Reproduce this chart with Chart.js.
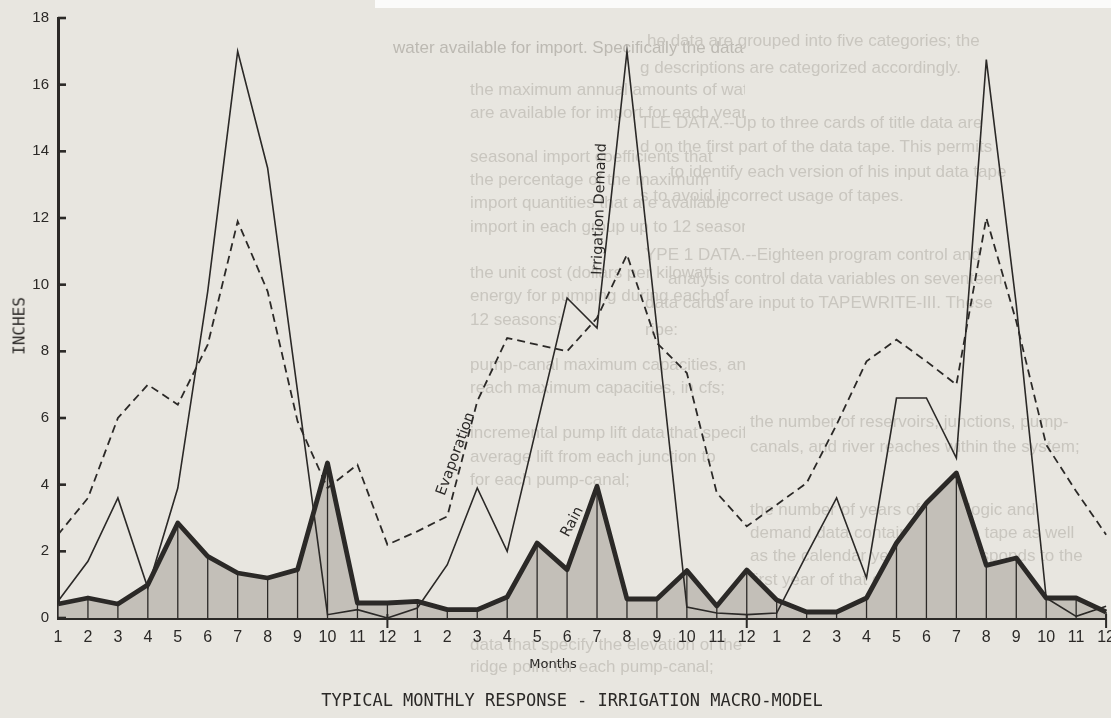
<!DOCTYPE html>
<html>
<head>
<meta charset="utf-8">
<title>Typical Monthly Response - Irrigation Macro-Model</title>
<script src="https://cdn.jsdelivr.net/npm/chart.js@4.4.1/dist/chart.umd.min.js"></script>
<style>
  html, body { margin: 0; padding: 0; overflow: hidden; background: #e8e6e0; }
  body { width: 1111px; height: 718px; position: relative; }
  #topEdge { position: absolute; left: 375px; top: 0; width: 736px; height: 8px; background: #fbfbfa; }
  #wrap { position: absolute; left: 0; top: 0; width: 1125px; height: 718px; }
  .ghost { position: absolute; font-family: 'Liberation Sans', Arial, sans-serif; font-size: 17px;
           color: #c9c6bf; white-space: nowrap; line-height: 20px; filter: blur(0.5px); }
  .clipL { position: absolute; left: 0; top: 0; width: 745px; height: 718px; overflow: hidden; }
  .clipR { position: absolute; left: 640px; top: 0; width: 471px; height: 718px; overflow: hidden; }
  #yTitle { position: absolute; left: 19px; top: 326px; transform: translate(-50%, -50%) rotate(-90deg);
            font-family: 'DejaVu Sans Mono', monospace; font-size: 16px; color: #2b2927; white-space: nowrap; }
  #xTitle { position: absolute; left: 553px; top: 663px; transform: translate(-50%, -50%);
            font-family: 'DejaVu Sans', sans-serif; font-size: 13px; color: #2b2927; white-space: nowrap; }
  #mainTitle { position: absolute; left: 572px; top: 700px; transform: translate(-50%, -50%);
               font-family: 'DejaVu Sans Mono', monospace; font-size: 17px; color: #2b2927; white-space: nowrap; }
</style>
</head>
<body>
<div id="topEdge"></div>

<!-- faint print showing through the page -->
<div class="clipL">
  <div class="ghost" style="left:393px;top:38px;color:#bcb9b2">water available for import. Specifically the data</div>
  <div class="ghost" style="left:470px;top:80px">the maximum annual amounts of water that</div>
  <div class="ghost" style="left:470px;top:103px">are available for import for each year;</div>
  <div class="ghost" style="left:470px;top:147px">seasonal import coefficients that</div>
  <div class="ghost" style="left:470px;top:170px">the percentage of the maximum</div>
  <div class="ghost" style="left:470px;top:193px">import quantities that are available</div>
  <div class="ghost" style="left:470px;top:217px">import in each group up to 12 seasons;</div>
  <div class="ghost" style="left:470px;top:263px">the unit cost (dollars per kilowatt</div>
  <div class="ghost" style="left:470px;top:286px">energy for pumping during each of</div>
  <div class="ghost" style="left:470px;top:310px">12 seasons;</div>
  <div class="ghost" style="left:470px;top:355px">pump-canal maximum capacities, and</div>
  <div class="ghost" style="left:470px;top:378px">reach maximum capacities, in cfs;</div>
  <div class="ghost" style="left:470px;top:423px">incremental pump lift data that specify</div>
  <div class="ghost" style="left:470px;top:447px">average lift from each junction to</div>
  <div class="ghost" style="left:470px;top:470px">for each pump-canal;</div>
  <div class="ghost" style="left:470px;top:635px">data that specify the elevation of the</div>
  <div class="ghost" style="left:470px;top:657px">ridge point for each pump-canal;</div>
</div>
<div class="clipR">
  <div class="ghost" style="left:7px;top:31px">he data are grouped into five categories; the</div>
  <div class="ghost" style="left:0px;top:58px">g descriptions are categorized accordingly.</div>
  <div class="ghost" style="left:0px;top:113px">TLE DATA.--Up to three cards of title data are</div>
  <div class="ghost" style="left:0px;top:137px">d on the first part of the data tape. This permits</div>
  <div class="ghost" style="left:30px;top:162px">to identify each version of his input data tape</div>
  <div class="ghost" style="left:0px;top:186px">s to avoid incorrect usage of tapes.</div>
  <div class="ghost" style="left:5px;top:245px">YPE 1 DATA.--Eighteen program control and</div>
  <div class="ghost" style="left:28px;top:269px">analysis control data variables on seventeen</div>
  <div class="ghost" style="left:5px;top:293px">data cards are input to TAPEWRITE-III. These</div>
  <div class="ghost" style="left:5px;top:320px">ribe:</div>
  <div class="ghost" style="left:110px;top:412px">the number of reservoirs, junctions, pump-</div>
  <div class="ghost" style="left:110px;top:437px">canals, and river reaches within the system;</div>
  <div class="ghost" style="left:110px;top:500px">the number of years of hydrologic and</div>
  <div class="ghost" style="left:110px;top:523px">demand data contained on the tape as well</div>
  <div class="ghost" style="left:110px;top:546px">as the calendar year that corresponds to the</div>
  <div class="ghost" style="left:110px;top:570px">first year of that data;</div>
</div>

<div id="wrap"><canvas id="chart"></canvas></div>
<div id="yTitle">INCHES</div>
<div id="xTitle">Months</div>
<div id="mainTitle">TYPICAL MONTHLY RESPONSE - IRRIGATION MACRO-MODEL</div>

<script>
// Month tick labels, repeated for each simulated year
const monthTicks = ['1', '2', '3', '4', '5', '6', '7', '8', '9', '10', '11', '12'];
const yearCount = 3;

// Monthly depths in inches, three consecutive years
const irrigationDemand = [
  0.5, 1.7, 3.6, 0.9, 3.9, 9.8, 17.0, 13.5, 6.8, 0.1, 0.25, 0.0,
  0.3, 1.6, 3.9, 2.0, 5.8, 9.6, 8.7, 17.0, 8.7, 0.33, 0.15, 0.1,
  0.15, 1.9, 3.6, 1.2, 6.6, 6.6, 4.8, 16.75, 9.4, 0.6, 0.05, 0.35
];
const evaporation = [
  2.5, 3.6, 6.0, 7.0, 6.4, 8.2, 11.9, 9.8, 5.9, 3.9, 4.6, 2.2,
  2.6, 3.05, 6.5, 8.4, 8.2, 8.0, 9.0, 10.9, 8.25, 7.35, 3.75, 2.75,
  3.4, 4.05, 5.8, 7.7, 8.35, 7.7, 7.0, 12.0, 8.9, 5.2, 3.8, 2.5
];
const rain = [
  0.42, 0.6, 0.42, 1.0, 2.85, 1.85, 1.35, 1.2, 1.45, 4.65, 0.45, 0.45,
  0.5, 0.25, 0.25, 0.63, 2.25, 1.45, 3.95, 0.57, 0.57, 1.42, 0.36, 1.44,
  0.54, 0.18, 0.18, 0.6, 2.25, 3.45, 4.35, 1.58, 1.8, 0.6, 0.6, 0.18
];

// Inline curve names: text, position in (month index, inches), rotation in degrees
const curveNames = [
  { text: 'Irrigation Demand', at: 18.09, value: 12.27, angle: -88 },
  { text: 'Evaporation',       at: 13.29, value: 4.92,  angle: -70 },
  { text: 'Rain',              at: 17.18, value: 2.88,  angle: -62 }
];

const ink = '#2b2927';
const labels = [];
for (let y = 0; y < yearCount; y++) monthTicks.forEach(m => labels.push(m));

const tickFont = { family: "'Liberation Sans', Arial, sans-serif", size: 16 };

// Drop lines under the rain curve, inward axis ticks, year separators, curve names
const decor = {
  id: 'decor',
  beforeDatasetsDraw(chart) {
    const ctx = chart.ctx;
    const base = chart.scales.y.getPixelForValue(0);
    const meta = chart.getDatasetMeta(0);
    ctx.save();
    ctx.strokeStyle = ink;
    ctx.lineWidth = 1.3;
    meta.data.forEach(pt => {
      ctx.beginPath();
      ctx.moveTo(pt.x, pt.y);
      ctx.lineTo(pt.x, base);
      ctx.stroke();
    });
    ctx.restore();
  },
  afterDraw(chart) {
    const ctx = chart.ctx;
    const xs = chart.scales.x, ys = chart.scales.y;
    const left = chart.chartArea.left, bottom = chart.chartArea.bottom;
    ctx.save();
    ctx.strokeStyle = ink;
    ctx.lineWidth = 2.6;
    ys.ticks.forEach(t => {
      const py = ys.getPixelForValue(t.value);
      ctx.beginPath();
      ctx.moveTo(left, py);
      ctx.lineTo(left + 8, py);
      ctx.stroke();
    });
    ctx.lineWidth = 2;
    for (let y = 1; y <= yearCount; y++) {
      const px = xs.getPixelForValue(y * 12 - 1);
      ctx.beginPath();
      ctx.moveTo(px, bottom - 4);
      ctx.lineTo(px, bottom + 10);
      ctx.stroke();
    }
    ctx.fillStyle = ink;
    ctx.font = "14.5px 'DejaVu Sans', sans-serif";
    ctx.textAlign = 'center';
    ctx.textBaseline = 'middle';
    curveNames.forEach(c => {
      ctx.save();
      ctx.translate(xs.getPixelForValue(c.at), ys.getPixelForValue(c.value));
      ctx.rotate(c.angle * Math.PI / 180);
      ctx.fillText(c.text, 0, 0);
      ctx.restore();
    });
    ctx.restore();
  }
};

new Chart(document.getElementById('chart'), {
  type: 'line',
  data: {
    labels: labels,
    datasets: [
      {
        label: 'Rain',
        data: rain,
        borderColor: ink,
        borderWidth: 4.8,
        backgroundColor: '#c3bfb8',
        fill: 'origin',
        pointRadius: 0,
        tension: 0,
        borderJoinStyle: 'round'
      },
      {
        label: 'Irrigation Demand',
        data: irrigationDemand,
        borderColor: ink,
        borderWidth: 1.6,
        fill: false,
        pointRadius: 0,
        tension: 0
      },
      {
        label: 'Evaporation',
        data: evaporation,
        borderColor: ink,
        borderWidth: 1.8,
        borderDash: [8, 5],
        fill: false,
        pointRadius: 0,
        tension: 0
      }
    ]
  },
  options: {
    responsive: true,
    maintainAspectRatio: false,
    animation: false,
    layout: { padding: { top: 18, right: 14, left: 0, bottom: 0 } },
    plugins: {
      legend: { display: false },
      tooltip: { enabled: false },
      title: { display: false },
      filler: { drawTime: 'beforeDatasetsDraw' }
    },
    scales: {
      x: {
        type: 'category',
        offset: false,
        grid: { display: true, drawOnChartArea: false, drawTicks: false },
        border: { display: true, color: ink, width: 3 },
        ticks: { autoSkip: false, maxRotation: 0, minRotation: 0, color: ink, font: tickFont, padding: 10 },
        afterFit(scale) { scale.height = 100; }
      },
      y: {
        min: 0,
        max: 18,
        grid: { display: true, drawOnChartArea: false, drawTicks: false },
        border: { display: true, color: ink, width: 3 },
        ticks: { stepSize: 2, color: ink, font: { family: tickFont.family, size: 15 }, padding: 9 },
        afterFit(scale) { scale.width = 58; }
      }
    }
  },
  plugins: [decor]
});
</script>
</body>
</html>
